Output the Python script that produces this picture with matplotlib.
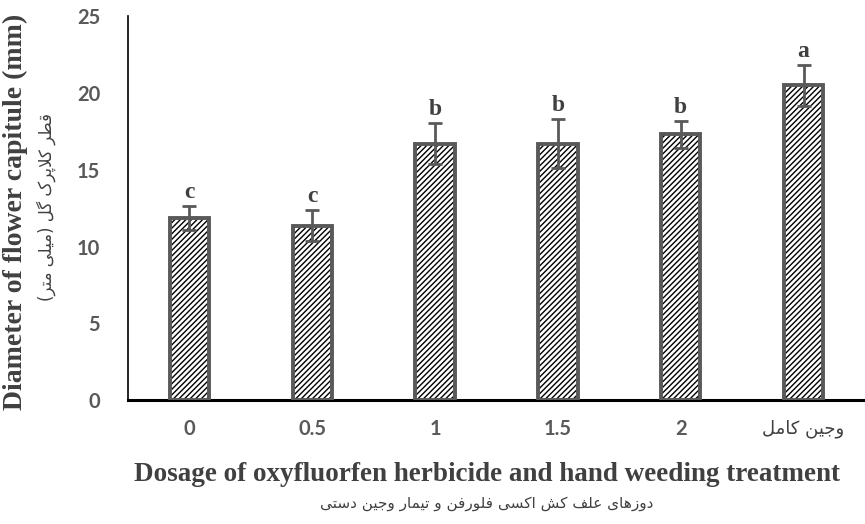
"""
Diameter of flower capitule - bar chart with error bars
"""
import matplotlib
matplotlib.use('Agg')

import matplotlib.pyplot as plt

# data
categories = ['0', '0.5', '1', '1.5', '2', 'وجین کامل']
means = [11.85, 11.35, 16.7, 16.7, 17.3, 20.5]
errors = [0.8, 1.0, 1.35, 1.6, 0.9, 1.35]
letters = ['c', 'c', 'b', 'b', 'b', 'a']

ylabel_en = 'Diameter of flower capitule (mm)'
ylabel_fa = 'قطر کلاپرک گل (میلی متر)'
xlabel_en = 'Dosage of oxyfluorfen herbicide and hand weeding treatment'
xlabel_fa = 'دوزهای علف کش اکسی فلورفن و تیمار وجین دستی'

# minimal Persian shaping (matplotlib has no bidi / joining)
# letter: (isolated, final, initial, medial); 2 forms = right-joining only
FORMS = {
    'ا': ('\uFE8D', '\uFE8E'),
    'د': ('\uFEA9', '\uFEAA'),
    'ر': ('\uFEAD', '\uFEAE'),
    'ز': ('\uFEAF', '\uFEB0'),
    'و': ('\uFEED', '\uFEEE'),
    'پ': ('\uFB56', '\uFB57', '\uFB58', '\uFB59'),
    'ت': ('\uFE95', '\uFE96', '\uFE97', '\uFE98'),
    'ج': ('\uFE9D', '\uFE9E', '\uFE9F', '\uFEA0'),
    'س': ('\uFEB1', '\uFEB2', '\uFEB3', '\uFEB4'),
    'ش': ('\uFEB5', '\uFEB6', '\uFEB7', '\uFEB8'),
    'ط': ('\uFEC1', '\uFEC2', '\uFEC3', '\uFEC4'),
    'ع': ('\uFEC9', '\uFECA', '\uFECB', '\uFECC'),
    'ف': ('\uFED1', '\uFED2', '\uFED3', '\uFED4'),
    'ق': ('\uFED5', '\uFED6', '\uFED7', '\uFED8'),
    'ک': ('\uFB8E', '\uFB8F', '\uFB90', '\uFB91'),
    'گ': ('\uFB92', '\uFB93', '\uFB94', '\uFB95'),
    'ل': ('\uFEDD', '\uFEDE', '\uFEDF', '\uFEE0'),
    'م': ('\uFEE1', '\uFEE2', '\uFEE3', '\uFEE4'),
    'ن': ('\uFEE5', '\uFEE6', '\uFEE7', '\uFEE8'),
    'ه': ('\uFEE9', '\uFEEA', '\uFEEB', '\uFEEC'),
    'ی': ('\uFBFC', '\uFBFD', '\uFBFE', '\uFBFF'),
}
MIRROR = {'(': ')', ')': '('}


def fa(text):
    # lam + alef ligature first
    chars = []
    i = 0
    while i < len(text):
        if text[i] == 'ل' and i + 1 < len(text) and text[i + 1] == 'ا':
            chars.append('LA')
            i += 2
        else:
            chars.append(text[i])
            i += 1

    def joins(c):
        return c in FORMS or c == 'LA'

    def dual(c):
        return c in FORMS and len(FORMS[c]) == 4

    out = []
    for i, c in enumerate(chars):
        prev = chars[i - 1] if i > 0 else None
        nxt = chars[i + 1] if i + 1 < len(chars) else None
        p = prev is not None and dual(prev) and joins(c)
        n = nxt is not None and dual(c) and joins(nxt)
        if c == 'LA':
            out.append('\uFEFC' if p else '\uFEFB')
        elif c in FORMS:
            f = FORMS[c]
            if p and n:
                out.append(f[3])
            elif p:
                out.append(f[1])
            elif n:
                out.append(f[2])
            else:
                out.append(f[0])
        else:
            out.append(MIRROR.get(c, c))
    return ''.join(reversed(out))


GRAY = '#595959'
DARK = '#404040'
plt.rcParams['hatch.linewidth'] = 1.0

fig = plt.figure(figsize=(8.65, 5.24), dpi=100)
ax = fig.add_axes([0.148, 0.2366, 0.852, 0.7324])

x = list(range(len(categories)))
# hatch layer
ax.bar(x, means, width=0.32, color='white', edgecolor='black',
       hatch='//////', linewidth=0, zorder=2)
# outline
ax.bar(x, means, width=0.32, fill=False, edgecolor=GRAY,
       linewidth=2.8, zorder=3)
ax.errorbar(x, means, yerr=errors, fmt='none', ecolor=GRAY,
            elinewidth=2, capsize=5, capthick=2, zorder=4)

for xi, m, e, lt in zip(x, means, errors, letters):
    ax.text(xi, m + e + 0.2, lt, ha='center', va='bottom',
            fontsize=17, fontweight='bold', color=DARK,
            family='Liberation Serif')

ax.set_xlim(-0.5, len(categories) - 0.5)
ax.set_ylim(0, 25)
ax.set_yticks([0, 5, 10, 15, 20, 25])
ax.set_xticks(x)
ax.set_xticklabels(categories[:-1] + [fa(categories[-1])])

for lab in ax.get_xticklabels()[:-1] + ax.get_yticklabels():
    lab.set_family('Lato')
    lab.set_fontweight('bold')
    lab.set_fontsize(14.5)
    lab.set_color(GRAY)
last = ax.get_xticklabels()[-1]
last.set_family('DejaVu Sans')
last.set_fontsize(13)
last.set_color(DARK)

ax.tick_params(axis='both', length=0)
ax.tick_params(axis='x', pad=14)
ax.tick_params(axis='y', pad=20)

ax.spines['top'].set_visible(False)
ax.spines['right'].set_visible(False)
ax.spines['left'].set_color('black')
ax.spines['left'].set_linewidth(1.2)
ax.spines['bottom'].set_color('black')
ax.spines['bottom'].set_linewidth(2.2)

# axis titles (english + persian)
fig.text(0.018, 0.595, ylabel_en, rotation=90, ha='center', va='center',
         fontsize=20, fontweight='bold', color=DARK, family='Liberation Serif')
fig.text(0.053, 0.605, fa(ylabel_fa), rotation=90, ha='center', va='center',
         fontsize=12, color=DARK, family='DejaVu Sans')
fig.text(0.563, 0.095, xlabel_en, ha='center', va='center',
         fontsize=19.5, fontweight='bold', color=DARK, family='Liberation Serif')
fig.text(0.563, 0.04, fa(xlabel_fa), ha='center', va='center',
         fontsize=11, color=DARK, family='DejaVu Sans')

plt.savefig('out.png', dpi=100, facecolor='white')
plt.close()
